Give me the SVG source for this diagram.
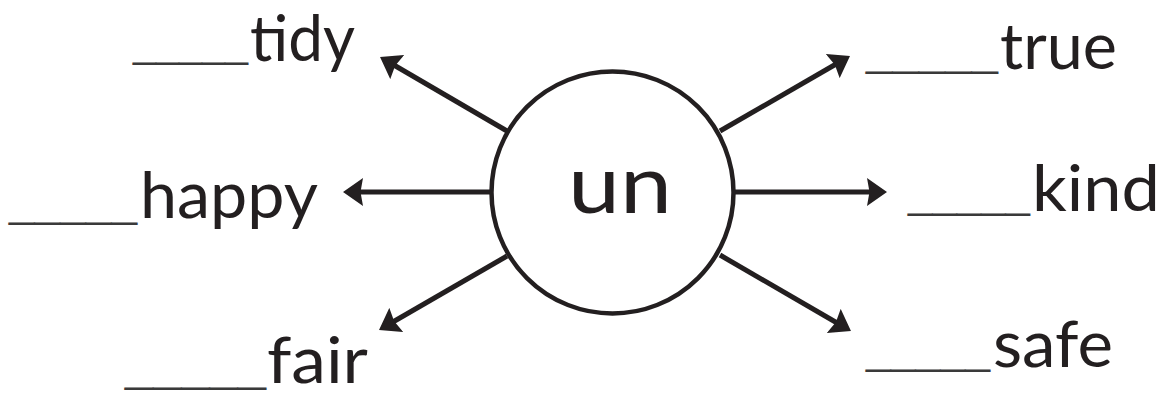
<svg xmlns="http://www.w3.org/2000/svg" width="1168" height="403" viewBox="0 0 1168 403">
  <style>
    .word { font-family: Lato, "Open Sans", "Liberation Sans", sans-serif; font-size: 64px; fill: #231f20; }
    .blank { font-family: "Liberation Sans", Arial, sans-serif; font-size: 40px; fill: #3a3a3a; }
    .center { font-family: Lato, "Open Sans", "Liberation Sans", sans-serif; font-size: 82px; fill: #231f20; }
    .conn { stroke: #231f20; stroke-width: 5; fill: none; marker-end: url(#arrow); }
  </style>
  <defs>
    <marker id="arrow" viewBox="0 0 20 28" refX="8" refY="14" markerWidth="20" markerHeight="28" markerUnits="userSpaceOnUse" orient="auto">
      <path d="M0,0 L20,14 L0,28 L2.5,14 z" fill="#231f20"/>
    </marker>
  </defs>
  <rect width="1168" height="403" fill="#ffffff"/>

  <g id="connectors">
    <line class="conn" x1="507" y1="131" x2="390.4" y2="63"/>
    <line class="conn" x1="720" y1="131" x2="839.6" y2="62"/>
    <line class="conn" x1="491" y1="192" x2="355" y2="192"/>
    <line class="conn" x1="734" y1="192" x2="875" y2="192"/>
    <line class="conn" x1="507" y1="256" x2="389.4" y2="324"/>
    <line class="conn" x1="720" y1="255" x2="840.6" y2="325"/>
  </g>

  <g id="node-un">
    <circle cx="612.5" cy="192.5" r="121" fill="#ffffff" stroke="#231f20" stroke-width="4.5"/>
    <text class="center" x="568" y="213" textLength="104" lengthAdjust="spacingAndGlyphs">un</text>
  </g>

  <g id="node-tidy">
    <text class="blank" x="133" y="57" textLength="115" lengthAdjust="spacingAndGlyphs">_____</text>
    <text class="word" x="250" y="61" textLength="105" lengthAdjust="spacingAndGlyphs">tidy</text>
  </g>

  <g id="node-true">
    <text class="blank" x="866" y="66" textLength="132" lengthAdjust="spacingAndGlyphs">_____</text>
    <text class="word" x="1000" y="69" textLength="117" lengthAdjust="spacingAndGlyphs">true</text>
  </g>

  <g id="node-happy">
    <text class="blank" x="9" y="216.5" textLength="128" lengthAdjust="spacingAndGlyphs">_____</text>
    <text class="word" x="140" y="218" textLength="178" lengthAdjust="spacingAndGlyphs">happy</text>
  </g>

  <g id="node-kind">
    <text class="blank" x="908" y="208" textLength="122" lengthAdjust="spacingAndGlyphs">_____</text>
    <text class="word" x="1032" y="211" textLength="128" lengthAdjust="spacingAndGlyphs">kind</text>
  </g>

  <g id="node-fair">
    <text class="blank" x="125" y="381.5" textLength="141" lengthAdjust="spacingAndGlyphs">_____</text>
    <text class="word" x="267" y="383" textLength="101" lengthAdjust="spacingAndGlyphs">fair</text>
  </g>

  <g id="node-safe">
    <text class="blank" x="866" y="364" textLength="124" lengthAdjust="spacingAndGlyphs">_____</text>
    <text class="word" x="993" y="367" textLength="120" lengthAdjust="spacingAndGlyphs">safe</text>
  </g>
</svg>
